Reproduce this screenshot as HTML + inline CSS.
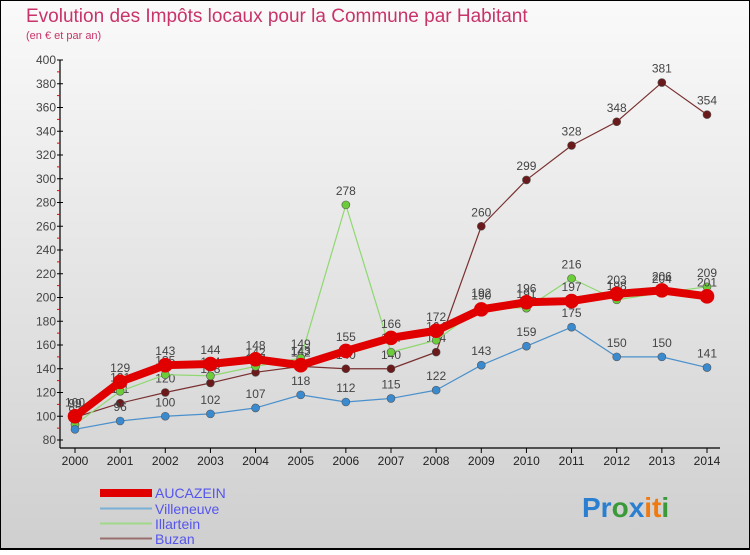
<!DOCTYPE html>
<html><head><meta charset="utf-8"><style>
body{margin:0;width:750px;height:550px;overflow:hidden;font-family:"Liberation Sans",sans-serif}
</style></head><body>
<svg width="750" height="550" xmlns="http://www.w3.org/2000/svg" font-family="Liberation Sans, sans-serif">
<defs><linearGradient id="bg" x1="0" y1="0" x2="0" y2="1"><stop offset="0" stop-color="#fafafa"/><stop offset="1" stop-color="#cfcfcf"/></linearGradient></defs>
<rect x="0" y="0" width="750" height="550" fill="url(#bg)"/>
<rect x="0.5" y="0.5" width="749" height="548" fill="none" stroke="#000" stroke-width="1"/>
<line x1="0" y1="549" x2="750" y2="549" stroke="#000" stroke-width="2"/>
<text x="26" y="22" font-size="19" fill="#c8336a">Evolution des Impôts locaux pour la Commune par Habitant</text>
<text x="26" y="39" font-size="11" fill="#c8336a">(en € et par an)</text>
<g id="axes"></g>
<g id="series"></g>
<g font-size="14">
<rect x="100" y="489" width="52" height="8" fill="#e00000"/><text x="155" y="498" fill="#5555ee">AUCAZEIN</text>
<line x1="100" y1="508.5" x2="152" y2="508.5" stroke="#7ab0d6" stroke-width="2"/><text x="155" y="514" fill="#5555ee">Villeneuve</text>
<line x1="100" y1="523.5" x2="152" y2="523.5" stroke="#a0d98a" stroke-width="2"/><text x="155" y="529" fill="#5555ee">Illartein</text>
<line x1="100" y1="538.5" x2="152" y2="538.5" stroke="#9a6f6f" stroke-width="2"/><text x="155" y="544" fill="#5555ee">Buzan</text>
</g>
<g font-size="28" font-weight="bold">
<text x="582" y="517"><tspan fill="#2a7fd0">Pr</tspan><tspan fill="#3a9a3a">o</tspan><tspan fill="#2a7fd0">x</tspan><tspan fill="#f07a10">it</tspan><tspan fill="#3a9a3a">i</tspan></text>
</g>
</svg>
<script>
const years=[2000,2001,2002,2003,2004,2005,2006,2007,2008,2009,2010,2011,2012,2013,2014];
const yTicks=[80,100,120,140,160,180,200,220,240,260,280,300,320,340,360,380,400];
const aucazein=[100,129,143,144,148,143,155,166,172,190,196,197,203,206,201];
const villeneuve=[89,96,100,102,107,118,112,115,122,143,159,175,150,150,141];
const illartein=[93,121,135,134,142,149,278,154,164,192,191,216,198,204,209];
const buzan=[99,111,120,128,137,142,140,140,154,260,299,328,348,381,354];
const NS='http://www.w3.org/2000/svg';
const X=i=>75+i*(707-75)/(years.length-1);
const Y=v=>440-(v-80)*(380/320);
function mk(t,a,p){const e=document.createElementNS(NS,t);for(const k in a)e.setAttribute(k,a[k]);p.appendChild(e);return e;}
const ax=document.getElementById('axes');
mk('line',{x1:60,y1:60,x2:60,y2:448,stroke:'#000','stroke-width':1.2},ax);
mk('line',{x1:60,y1:448,x2:720,y2:448,stroke:'#000','stroke-width':1.2},ax);
yTicks.forEach((v,i)=>{
 mk('line',{x1:57,y1:Y(v),x2:63,y2:Y(v),stroke:'#000'},ax);
 if(i<yTicks.length-1) mk('line',{x1:57,y1:Y(v+10),x2:60,y2:Y(v+10),stroke:'#e00'},ax);
 const t=mk('text',{x:56,y:Y(v)+4,'font-size':12,fill:'#444','text-anchor':'end'},ax);t.textContent=v;
 
 
});
years.forEach((yr,i)=>{
 mk('line',{x1:X(i),y1:448,x2:X(i),y2:453,stroke:'#000'},ax);
 const t=mk('text',{x:X(i),y:465,'font-size':12,fill:'#222','text-anchor':'middle'},ax);t.textContent=yr;
 
 
});
const sg=document.getElementById('series');
function series(name,vals,color,mcol,w,r){
 const g=mk('g',{},sg);
 
 
 mk('polyline',{points:vals.map((v,i)=>X(i)+','+Y(v)).join(' '),fill:'none',stroke:color,'stroke-width':w,'stroke-linejoin':'round'},g);
 vals.forEach((v,i)=>{
  const c=mk('circle',{cx:X(i),cy:Y(v),r:r,fill:mcol,stroke:color==='#e00000'?'#e00000':'#555','stroke-width':0.6},g);
  
  
  const t=mk('text',{x:X(i),y:Y(v)-10,'font-size':12,fill:'#444','text-anchor':'middle'},g);t.textContent=v;
  
  
 });
}
series('buzan',buzan,'#7a3030','#6a1a1a',1.2,4);
series('illartein',illartein,'#8fd870','#6ccc3a',1.2,4);
series('villeneuve',villeneuve,'#4a90cc','#3a8ad0',1.2,4);
series('aucazein',aucazein,'#e00000','#e00000',8,7);
</script>
</body></html>
